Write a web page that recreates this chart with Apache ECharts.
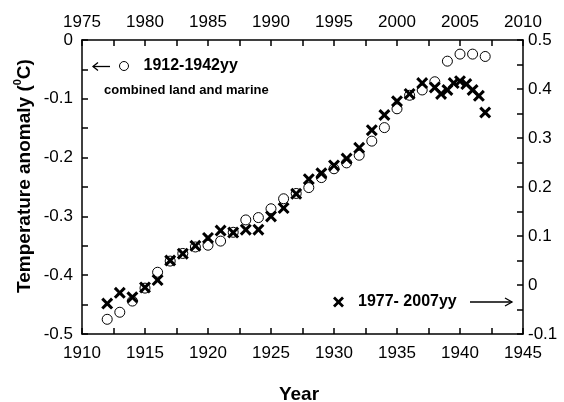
<!DOCTYPE html>
<html>
<head>
<meta charset="utf-8">
<script src="https://cdn.jsdelivr.net/npm/echarts@6/dist/echarts.min.js"></script>
<style>
  html, body { margin: 0; padding: 0; background: #fff; }
  #chart { width: 564px; height: 402px; }
</style>
</head>
<body>
<div id="chart"></div>
<script>
// Global temperature anomaly, two 31-year windows plotted on shared frame
const earlyYears = [1912, 1913, 1914, 1915, 1916, 1917, 1918, 1919, 1920, 1921,
  1922, 1923, 1924, 1925, 1926, 1927, 1928, 1929, 1930, 1931,
  1932, 1933, 1934, 1935, 1936, 1937, 1938, 1939, 1940, 1941, 1942];
const earlyAnomaly = [-0.475, -0.463, -0.444, -0.422, -0.395, -0.376, -0.363, -0.352, -0.349, -0.342,
  -0.327, -0.306, -0.302, -0.287, -0.270, -0.261, -0.251, -0.234, -0.219, -0.209,
  -0.196, -0.172, -0.149, -0.117, -0.094, -0.085, -0.071, -0.036, -0.024, -0.024, -0.028];

const lateYears = [1977, 1978, 1979, 1980, 1981, 1982, 1983, 1984, 1985, 1986,
  1987, 1988, 1989, 1990, 1991, 1992, 1993, 1994, 1995, 1996,
  1997, 1998, 1999, 2000, 2001, 2002, 2003, 2003.5, 2004, 2004.5,
  2005, 2005.5, 2006, 2006.5, 2007];
const lateAnomaly = [-0.038, -0.016, -0.025, -0.005, 0.010, 0.050, 0.064, 0.080, 0.096, 0.111,
  0.107, 0.113, 0.113, 0.140, 0.157, 0.186, 0.216, 0.228, 0.244, 0.258,
  0.280, 0.316, 0.347, 0.375, 0.390, 0.412, 0.403, 0.390, 0.398, 0.412,
  0.416, 0.410, 0.398, 0.386, 0.352];

// tick label values for the four axes
const bottomYearTicks = [1910, 1915, 1920, 1925, 1930, 1935, 1940, 1945];
const topYearTicks = [1975, 1980, 1985, 1990, 1995, 2000, 2005, 2010];
const leftTicks = [-0.5, -0.4, -0.3, -0.2, -0.1, 0];
const rightTicks = [-0.1, 0, 0.1, 0.2, 0.3, 0.4, 0.5];

const earlyName = '1912-1942yy';
const lateName = '1977- 2007yy';

const FONT = 'Liberation Sans';
const INK = '#000';
// bold "x" marker as a filled outline
const CROSS = 'path://M0,1.8L1.8,0L5,3.2L8.2,0L10,1.8L6.8,5L10,8.2L8.2,10L5,6.8L1.8,10L0,8.2L3.2,5Z';

const yearLabel = v => String(Math.round(v));
const anomalyLabel = v => String(Math.round(v * 10) / 10);

function axisStyle(ticks, position, margin, formatter) {
  return {
    type: 'value',
    position: position,
    min: ticks[0],
    max: ticks[ticks.length - 1],
    interval: Math.round((ticks[1] - ticks[0]) * 1000) / 1000,
    axisLine: { show: true, onZero: false, lineStyle: { color: INK, width: 1.5 } },
    axisTick: { show: true, inside: true, length: 6, lineStyle: { color: INK, width: 1.5 } },
    minorTick: { show: true, splitNumber: 2, length: 6, lineStyle: { color: INK, width: 1.5 } },
    splitLine: { show: false },
    axisLabel: {
      show: true, interval: 0, color: INK, fontSize: 17, fontFamily: FONT, margin: margin,
      showMinLabel: true, showMaxLabel: true, formatter: formatter
    }
  };
}

const chart = echarts.init(document.getElementById('chart'), null, { renderer: 'canvas' });

chart.setOption({
  animation: false,
  backgroundColor: '#fff',
  grid: { left: 82, right: 41, top: 40, bottom: 68, containLabel: false, outerBoundsMode: 'none' },
  xAxis: [
    axisStyle(bottomYearTicks, 'bottom', 11, yearLabel),
    axisStyle(topYearTicks, 'top', 9, yearLabel)
  ],
  yAxis: [
    axisStyle(leftTicks, 'left', 9, anomalyLabel),
    axisStyle(rightTicks, 'right', 5, anomalyLabel)
  ],
  legend: [
    {
      data: [{ name: earlyName, icon: 'circle',
        itemStyle: { color: 'rgba(0,0,0,0)', borderColor: INK, borderWidth: 1 } }],
      left: 114, top: 53, padding: 5,
      itemWidth: 9, itemHeight: 9,
      selectedMode: false,
      textStyle: { color: INK, fontSize: 16, fontWeight: 'bold', fontFamily: FONT,
        padding: [0, 0, 0, 10] }
    },
    {
      data: [{ name: lateName, icon: CROSS, itemStyle: { color: INK, borderWidth: 0 } }],
      left: 328, top: 289, padding: 5,
      itemWidth: 11, itemHeight: 11,
      selectedMode: false,
      textStyle: { color: INK, fontSize: 16, fontWeight: 'bold', fontFamily: FONT,
        padding: [0, 0, 0, 9] }
    }
  ],
  graphic: [
    {
      type: 'text', left: 104, top: 84,
      style: { text: 'combined land and marine', fill: INK, font: 'bold 13px "Liberation Sans"' }
    },
    {
      type: 'text', x: 23, y: 176, rotation: Math.PI / 2,
      style: {
        text: '{a|Temperature anomaly (}{s|0}{a|C)}',
        align: 'center', verticalAlign: 'middle', fill: INK,
        rich: {
          a: { fontSize: 19, fontWeight: 'bold', fontFamily: FONT, fill: INK, lineHeight: 22, verticalAlign: 'bottom' },
          s: { fontSize: 11, fontWeight: 'bold', fontFamily: FONT, fill: INK, lineHeight: 11, verticalAlign: 'top' }
        }
      }
    },
    {
      type: 'text', x: 299, y: 395,
      style: { text: 'Year', align: 'center', verticalAlign: 'middle', fill: INK,
        font: 'bold 19px "Liberation Sans"' }
    },
    // arrow pointing to the left-hand scale
    {
      type: 'group',
      children: [
        { type: 'line', shape: { x1: 93, y1: 66.5, x2: 110, y2: 66.5 }, style: { stroke: INK, lineWidth: 1.3 } },
        { type: 'polyline', shape: { points: [[98, 62.5], [93, 66.5], [98, 70.5]] }, style: { stroke: INK, lineWidth: 1.3, fill: null } }
      ]
    },
    // arrow pointing to the right-hand scale
    {
      type: 'group',
      children: [
        { type: 'line', shape: { x1: 470, y1: 302, x2: 512, y2: 302 }, style: { stroke: INK, lineWidth: 1.3 } },
        { type: 'polyline', shape: { points: [[505, 298], [512, 302], [505, 306]] }, style: { stroke: INK, lineWidth: 1.3, fill: null } }
      ]
    }
  ],
  series: [
    {
      name: earlyName,
      type: 'scatter',
      xAxisIndex: 0,
      yAxisIndex: 0,
      data: earlyYears.map((y, i) => [y, earlyAnomaly[i]]),
      symbol: 'circle',
      symbolSize: 10,
      itemStyle: { color: 'rgba(0,0,0,0)', borderColor: INK, borderWidth: 1, opacity: 1 },
      emphasis: { disabled: true },
      z: 2
    },
    {
      name: lateName,
      type: 'scatter',
      xAxisIndex: 1,
      yAxisIndex: 1,
      data: lateYears.map((y, i) => [y, lateAnomaly[i]]),
      symbol: CROSS,
      symbolSize: 12,
      itemStyle: { color: INK, opacity: 1 },
      emphasis: { disabled: true },
      z: 3
    }
  ]
});
</script>
</body>
</html>
